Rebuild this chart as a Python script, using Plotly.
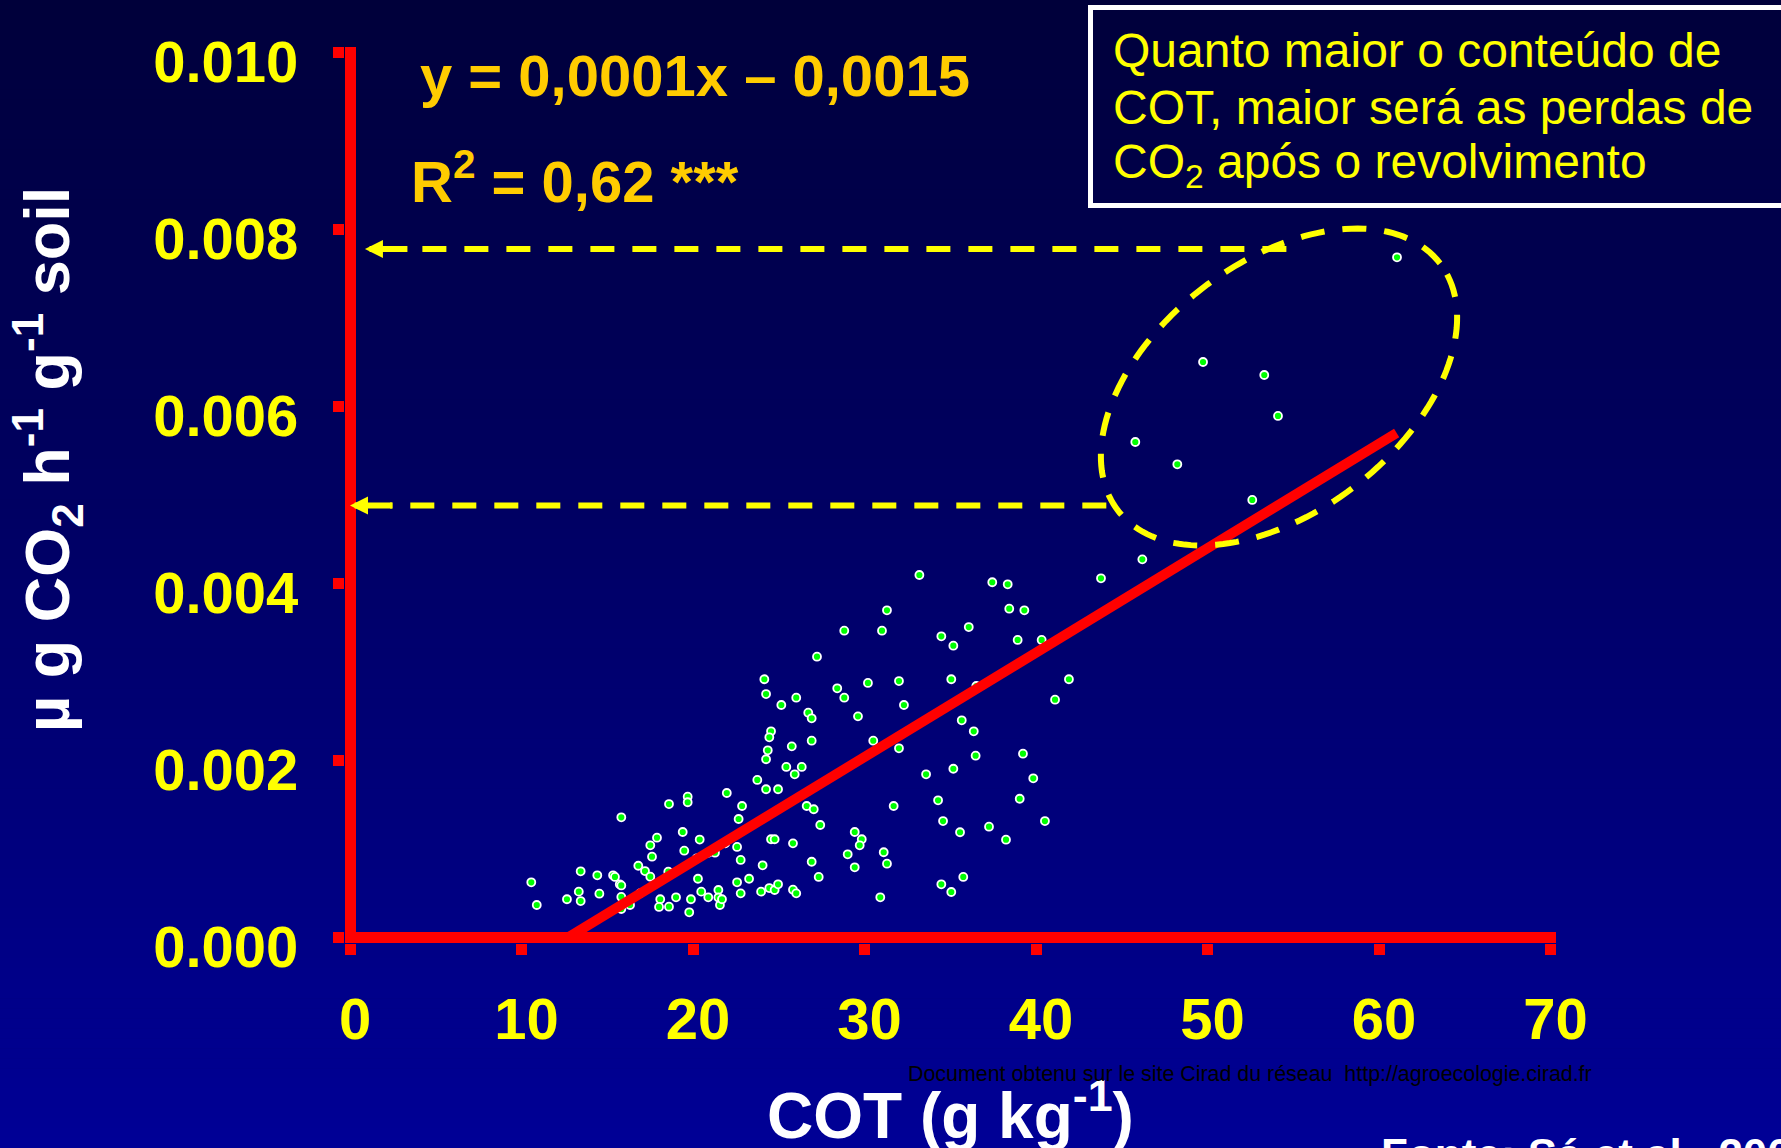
import numpy as np
import plotly.graph_objects as go

# ---------------- data ----------------
cot = [
    31.31, 28.82, 31.02, 27.23, 24.16, 24.26, 25.15, 26.02, 28.41, 28.82, 30.20, 32.01,
    26.72, 26.92, 29.62, 24.55, 24.45, 25.76, 26.92, 30.51, 32.01, 24.36, 24.26, 25.44,
    26.34, 25.93, 23.75, 24.26, 24.96, 21.97, 19.69, 19.69, 18.60, 22.86, 26.63, 27.04,
    31.70, 22.66, 15.82, 27.42, 29.43, 29.84, 29.72, 24.55, 24.76, 25.83, 22.57, 21.88,
    29.02, 31.12, 31.31, 26.92, 29.43, 24.06, 22.78, 27.33, 23.27, 22.57, 22.78, 23.97,
    24.45, 24.76, 24.96, 25.83, 26.02, 30.92,
    10.57, 10.89, 12.65, 13.45, 13.34, 13.45, 14.42, 14.54, 15.34, 15.45, 15.73, 15.82,
    15.82, 15.82, 16.33, 16.81, 17.20, 17.51, 17.51, 17.61, 17.90, 16.91, 19.40, 19.49,
    20.39, 20.29, 20.48, 20.89, 21.48, 21.48, 21.57, 21.69, 18.09, 18.02, 18.60, 19.01,
    19.88, 19.78, 18.56, 20.22, 20.89, 21.28,
    33.20, 37.45, 38.35, 43.79, 46.20, 38.44, 39.32, 36.08, 34.48, 35.18, 38.93, 40.33,
    32.30, 35.06, 36.52, 41.92, 41.11, 35.67, 36.37, 36.48, 39.24, 35.18, 33.59, 39.84,
    34.29, 39.05, 34.58, 35.57, 37.26, 40.52, 38.25, 35.76, 34.48, 35.06,
    61.05, 49.74, 53.31, 54.11, 45.79, 48.24, 52.61,
]
co2 = [
    0.003697, 0.003467, 0.003467, 0.003173, 0.002918, 0.002751, 0.002627, 0.002710, 0.002816, 0.002710, 0.002876, 0.002898,
    0.002540, 0.002477, 0.002499, 0.002330, 0.002262, 0.002160, 0.002224, 0.002224, 0.002138, 0.002115, 0.002014, 0.001927,
    0.001927, 0.001844, 0.001780, 0.001675, 0.001675, 0.001633, 0.001591, 0.001528, 0.001508, 0.001486, 0.001486, 0.001449,
    0.001486, 0.001339, 0.001358, 0.001271, 0.001192, 0.001110, 0.001042, 0.001110, 0.001110, 0.001064, 0.001023, 0.001064,
    0.000940, 0.000963, 0.000834, 0.000856, 0.000793, 0.000816, 0.000876, 0.000684, 0.000664, 0.000624, 0.000499, 0.000518,
    0.000559, 0.000537, 0.000601, 0.000540, 0.000499, 0.000454,
    0.000624, 0.000367, 0.000432, 0.000748, 0.000518, 0.000412, 0.000703, 0.000495, 0.000703, 0.000684, 0.000601, 0.000588,
    0.000458, 0.000322, 0.000367, 0.000811, 0.000751, 0.000687, 0.001042, 0.000913, 0.001128, 0.000499, 0.001192, 0.000981,
    0.001107, 0.000664, 0.000518, 0.000454, 0.000537, 0.000452, 0.000367, 0.000432, 0.000432, 0.000345, 0.000348, 0.000454,
    0.000432, 0.000285, 0.000744, 0.000895, 0.000958, 0.000958,
    0.004096, 0.004014, 0.003991, 0.004059, 0.004273, 0.003715, 0.003697, 0.003508, 0.003403, 0.003297, 0.003362, 0.003362,
    0.002627, 0.002918, 0.002842, 0.002918, 0.002687, 0.002454, 0.002330, 0.002054, 0.002077, 0.001907, 0.001844, 0.001799,
    0.001550, 0.001568, 0.001316, 0.001189, 0.001252, 0.001316, 0.001105, 0.000684, 0.000601, 0.000514,
    0.007686, 0.006503, 0.006356, 0.005893, 0.005599, 0.005347, 0.004944,
]

trend_x = [12.71, 61.03]
trend_y = [0.0, 0.0057]

x_ticks = [0, 10, 20, 30, 40, 50, 60, 70]
x_ticktext = ["0", "10", "20", "30", "40", "50", "60", "70"]
y_ticks = [0.000, 0.002, 0.004, 0.006, 0.008, 0.010]
y_ticktext = ["0.000", "0.002", "0.004", "0.006", "0.008", "0.010"]

arrow_y = [0.00778, 0.00488]
arrow_tip_x = [0.87, 0.0]
arrow_tail_x = [54.6, 44.1]

eq_text = "<b>y = 0,0001x – 0,0015</b>"
r2_text = "<b>R<sup>2</sup> = 0,62 ***</b>"
box_lines = ["Quanto maior o conteúdo de",
             "COT, maior será as perdas de",
             "CO<sub>2</sub> após o revolvimento"]
x_title = "<b>COT (g kg<sup>-1</sup>)</b>"
y_title = "<b>µ g CO<sub>2</sub> h<sup>-1</sup> g<sup>-1</sup> soil</b>"
watermark = "Document obtenu sur le site Cirad du réseau&nbsp; http://agroecologie.cirad.fr"
source = "<b>Fonte: Sá et al., 2001</b>"

# ---------------- geometry ----------------
W, H = 1781, 1148
ML, MR, MT, MB = 345, 225, 47, 205
PW, PH = W - ML - MR, H - MT - MB
X0_PX, X_SCALE = 350.0, 17.15      # pixel of x=0, px per unit
Y0_PX, Y_SCALE = 937.5, 88500.0    # pixel of y=0, px per unit
x_range = [(ML - X0_PX) / X_SCALE, (ML + PW - X0_PX) / X_SCALE]
y_range = [(Y0_PX - (MT + PH)) / Y_SCALE, (Y0_PX - MT) / Y_SCALE]


def px2x(px):
    return (px - X0_PX) / X_SCALE


def py2y(py):
    return (Y0_PX - py) / Y_SCALE


def pxp(px):
    return (px - ML) / PW


def pyp(py):
    return (MT + PH - py) / PH


FONT = "Liberation Sans, Arial, sans-serif"
RED = "#FF0000"
YEL = "#FFFF00"
ORANGE = "#FFCC00"

fig = go.Figure()
fig.add_trace(go.Scatter(
    x=cot, y=co2, mode="markers",
    marker=dict(size=8, color="#00FF00", line=dict(color="white", width=1.8)),
    showlegend=False, hoverinfo="skip"))
fig.add_trace(go.Scatter(
    x=trend_x, y=trend_y, mode="lines",
    line=dict(color=RED, width=10), showlegend=False, hoverinfo="skip"))

shapes = []
# background gradient
n_bands = 115
top_rgb, bot_rgb = (0, 0, 58), (0, 0, 150)
for i in range(n_bands):
    t = (i + 0.5) / n_bands
    c = tuple(int(round(a + (b - a) * t)) for a, b in zip(top_rgb, bot_rgb))
    py0 = H * i / n_bands
    py1 = H * (i + 1) / n_bands + 0.6
    shapes.append(dict(type="rect", xref="paper", yref="paper",
                       x0=pxp(-5), x1=pxp(W + 5), y0=pyp(py1), y1=pyp(py0),
                       fillcolor="rgb(%d,%d,%d)" % c, line=dict(width=0), layer="below"))

# text box
shapes.append(dict(type="rect", xref="paper", yref="paper",
                   x0=pxp(1090.5), x1=pxp(1810), y0=pyp(205.5), y1=pyp(7.5),
                   line=dict(color="white", width=5), fillcolor="rgba(0,0,0,0)", layer="above"))

# dashed arrow lines
DASH = "24px,18px"
for ay_, tip, tail in zip(arrow_y, arrow_tip_x, arrow_tail_x):
    shapes.append(dict(type="line", xref="x", yref="y",
                       x0=tail, y0=ay_, x1=tip + 40 / X_SCALE, y1=ay_,
                       line=dict(color=YEL, width=6, dash=DASH)))

# dashed ellipse
cx, cy, a, b, th = 1279.0, 387.0, 203.0, 125.0, np.deg2rad(37.5)
tt = np.linspace(0, 2 * np.pi, 160)
epx = cx + a * np.cos(tt) * np.cos(th) - b * np.sin(tt) * np.sin(th)
epy = cy - (a * np.cos(tt) * np.sin(th) + b * np.sin(tt) * np.cos(th))
path = "M " + " L ".join("%.4f,%.7f" % (px2x(u), py2y(v)) for u, v in zip(epx, epy)) + " Z"
shapes.append(dict(type="path", xref="x", yref="y", path=path,
                   line=dict(color=YEL, width=6, dash=DASH)))

ann = []
for ay_, tip in zip(arrow_y, arrow_tip_x):
    ann.append(dict(x=tip, y=ay_, xref="x", yref="y", text="", showarrow=True,
                    ax=44, ay=0, axref="pixel", ayref="pixel",
                    arrowhead=2, arrowsize=0.6, arrowwidth=6, arrowcolor=YEL, standoff=0))

ann.append(dict(x=pxp(418), y=pyp(76), xref="paper", yref="paper", text=eq_text,
                showarrow=False, xanchor="left", yanchor="middle",
                font=dict(family=FONT, size=58, color=ORANGE)))
ann.append(dict(x=pxp(409), y=pyp(177), xref="paper", yref="paper", text=r2_text,
                showarrow=False, xanchor="left", yanchor="middle",
                font=dict(family=FONT, size=58, color=ORANGE)))
for line, yc in zip(box_lines, [50, 107.5, 165]):
    ann.append(dict(x=pxp(1111), y=pyp(yc), xref="paper", yref="paper", text=line,
                    showarrow=False, xanchor="left", yanchor="middle",
                    font=dict(family=FONT, size=48, color=YEL)))
ann.append(dict(x=pxp(950), y=pyp(1111), xref="paper", yref="paper", text=x_title,
                showarrow=False, xanchor="center", yanchor="middle",
                font=dict(family=FONT, size=64, color="white")))
ann.append(dict(x=pxp(47), y=pyp(460), xref="paper", yref="paper", text=y_title,
                showarrow=False, xanchor="center", yanchor="middle", textangle=-90,
                font=dict(family=FONT, size=63, color="white")))
ann.append(dict(x=pxp(1594), y=pyp(1074), xref="paper", yref="paper", text=watermark,
                showarrow=False, xanchor="right", yanchor="middle",
                font=dict(family=FONT, size=21.4, color="black")))
ann.append(dict(x=pxp(1379), y=pyp(1128), xref="paper", yref="paper", text=source,
                showarrow=False, xanchor="left", yanchor="top",
                font=dict(family=FONT, size=44, color="white")))

axis_common = dict(showgrid=False, showline=False, zeroline=True, zerolinecolor=RED,
                   zerolinewidth=11, ticks="outside", ticklen=11, tickwidth=11,
                   tickcolor=RED, tickfont=dict(family=FONT, size=58, color=YEL),
                   fixedrange=True)

fig.update_layout(
    width=W, height=H, autosize=False,
    margin=dict(l=ML, r=MR, t=MT, b=MB, pad=0),
    paper_bgcolor="rgb(0,0,100)", plot_bgcolor="rgba(0,0,0,0)",
    xaxis=dict(range=x_range, tickvals=x_ticks, ticktext=[f"<b>{t}</b>" for t in x_ticktext],
               ticklabelstandoff=14, ticklabelshift=5, **axis_common),
    yaxis=dict(range=y_range, tickvals=y_ticks, ticktext=[f"<b>{t}</b>" for t in y_ticktext],
               ticklabelstandoff=23, ticklabelshift=9, **axis_common),
    shapes=shapes, annotations=ann, showlegend=False,
)

fig.write_html("out.html", config={"displayModeBar": False},
               post_script="document.body.style.margin='0px';document.body.style.overflow='hidden';")
